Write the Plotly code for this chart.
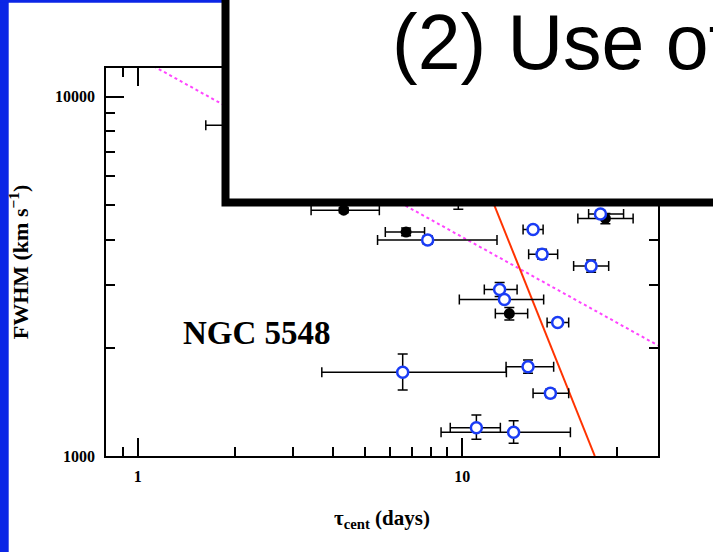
import plotly.graph_objects as go

# ---- data (tau_cent in days, FWHM in km/s) ----
filled_tau    = [4.31, 6.71, 13.96, 27.6, 9.72, 2.56]
filled_tau_lo = [3.42, 5.79, 12.64, 22.7, 9.72, 1.62]
filled_tau_hi = [5.55, 7.65, 15.9, 33.6, 9.72, 3.60]
filled_fwhm    = [4830, 4200, 2490, 4580, 5500, 8320]
filled_fwhm_lo = [4750, 4100, 2388, 4430, 4860, 8120]
filled_fwhm_hi = [4910, 4310, 2590, 4730, 6200, 8520]

open_tau    = [7.82, 26.65, 16.52, 17.61, 24.94, 13.03, 13.48, 19.67, 6.55, 15.94, 18.68, 11.05, 14.39]
open_tau_lo = [5.48, 24.5, 15.39, 16.01, 22.03, 11.69, 9.79, 18.25, 3.69, 13.64, 16.52, 9.18, 8.6]
open_tau_hi = [12.79, 31.4, 17.74, 19.67, 28.25, 14.75, 17.81, 21.27, 13.67, 19.12, 21.27, 13.1, 21.53]
open_fwhm    = [3990, 4710, 4270, 3640, 3375, 2906, 2727, 2353, 1709, 1772, 1494, 1199, 1164]
open_fwhm_lo = [3880, 4600, 4170, 3530, 3245, 2780, 2680, 2310, 1526, 1700, 1455, 1113, 1085]
open_fwhm_hi = [4100, 4820, 4370, 3760, 3510, 3040, 2780, 2400, 1921, 1850, 1535, 1300, 1254]

virial_tau  = [1.0, 40.1]
virial_fwhm = [12850, 2030]
steep_tau  = [8.5, 25.6]
steep_fwhm = [12000, 1000]

x_tick_vals = [1, 10]
y_tick_vals = [1000, 10000]
y_tick_text = ["1000", "10000"]

title_text = "(2) Use of"
label_text = "NGC 5548"

SERIF = "Liberation Serif, Times New Roman, serif"
BLUE = "#1a3cf5"


def diff(a, b):
    return [abs(p - q) for p, q in zip(a, b)]


fig = go.Figure()

fig.add_trace(go.Scatter(
    x=virial_tau, y=virial_fwhm, mode="lines",
    line=dict(color="#ff44ff", width=2, dash="dot"), showlegend=False))
fig.add_trace(go.Scatter(
    x=steep_tau, y=steep_fwhm, mode="lines",
    line=dict(color="#ff3300", width=2), showlegend=False))

fig.add_trace(go.Scatter(
    x=filled_tau, y=filled_fwhm, mode="markers",
    marker=dict(symbol="circle", size=11, color="black"),
    error_x=dict(type="data", symmetric=False,
                 array=diff(filled_tau_hi, filled_tau), arrayminus=diff(filled_tau, filled_tau_lo),
                 color="black", thickness=1.5, width=5),
    error_y=dict(type="data", symmetric=False,
                 array=diff(filled_fwhm_hi, filled_fwhm), arrayminus=diff(filled_fwhm, filled_fwhm_lo),
                 color="black", thickness=1.5, width=5),
    showlegend=False))

fig.add_trace(go.Scatter(
    x=open_tau, y=open_fwhm, mode="markers",
    marker=dict(symbol="circle", size=11, color="white", line=dict(color=BLUE, width=2.5)),
    error_x=dict(type="data", symmetric=False,
                 array=diff(open_tau_hi, open_tau), arrayminus=diff(open_tau, open_tau_lo),
                 color="black", thickness=1.5, width=5),
    error_y=dict(type="data", symmetric=False,
                 array=diff(open_fwhm_hi, open_fwhm), arrayminus=diff(open_fwhm, open_fwhm_lo),
                 color="black", thickness=1.5, width=5),
    showlegend=False))

W, H = 713, 552
ML, MR, MT, MB = 106, 55, 68, 96
PW, PH = W - ML - MR, H - MT - MB


def px(x):
    return (x - ML) / PW


def py(y):
    return (H - MB - y) / PH


shapes = [
    # blue slide border strips
    dict(type="rect", xref="paper", yref="paper", x0=px(-5), x1=px(8.7), y0=py(600), y1=py(-5),
         fillcolor="#0b26e6", line=dict(width=0), layer="above"),
    dict(type="rect", xref="paper", yref="paper", x0=px(-5), x1=px(224), y0=py(2.7), y1=py(-5),
         fillcolor="#0b26e6", line=dict(width=0), layer="above"),
    # overlapping white text box
    dict(type="rect", xref="paper", yref="paper", x0=px(225.5), x1=px(800), y0=py(202.5), y1=py(-60),
         fillcolor="white", line=dict(color="black", width=8), layer="above"),
]

annotations = [
    dict(text=title_text, xref="paper", yref="paper", x=px(390), y=py(42),
         xanchor="left", yanchor="middle", showarrow=False,
         font=dict(family="Liberation Sans, Arial, sans-serif", size=77, color="black")),
    dict(text="<b>" + label_text + "</b>", xref="paper", yref="paper", x=px(257), y=py(333),
         xanchor="center", yanchor="middle", showarrow=False,
         font=dict(family=SERIF, size=33, color="black")),
]

axis_common = dict(
    type="log", showline=True, linecolor="black", linewidth=1.5, mirror="ticks",
    ticks="inside", tickcolor="black", tickwidth=1.5, showgrid=False, zeroline=False,
    tickfont=dict(family=SERIF, size=16, color="black", weight="bold"),
    minor=dict(ticks="inside", ticklen=9, tickwidth=1.5, tickcolor="black", dtick="D1", showgrid=False),
)

fig.update_layout(
    width=W, height=H,
    margin=dict(l=ML, r=MR, t=MT, b=MB),
    paper_bgcolor="white", plot_bgcolor="white",
    shapes=shapes, annotations=annotations,
    xaxis=dict(axis_common, range=[-0.098, 1.603], tickvals=x_tick_vals, ticklen=18,
               ticklabelstandoff=5,
               title=dict(text="<b>τ<sub>cent</sub> (days)</b>", standoff=26,
                          font=dict(family=SERIF, size=21, color="black"))),
    yaxis=dict(axis_common, range=[3.0, 4.0795], tickvals=y_tick_vals, ticktext=y_tick_text, ticklen=18,
               ticklabelstandoff=6,
               title=dict(text="<b>FWHM (km s<sup>−1</sup>)</b>", standoff=20,
                          font=dict(family=SERIF, size=22, color="black"))),
)

fig.write_html("out.html")
